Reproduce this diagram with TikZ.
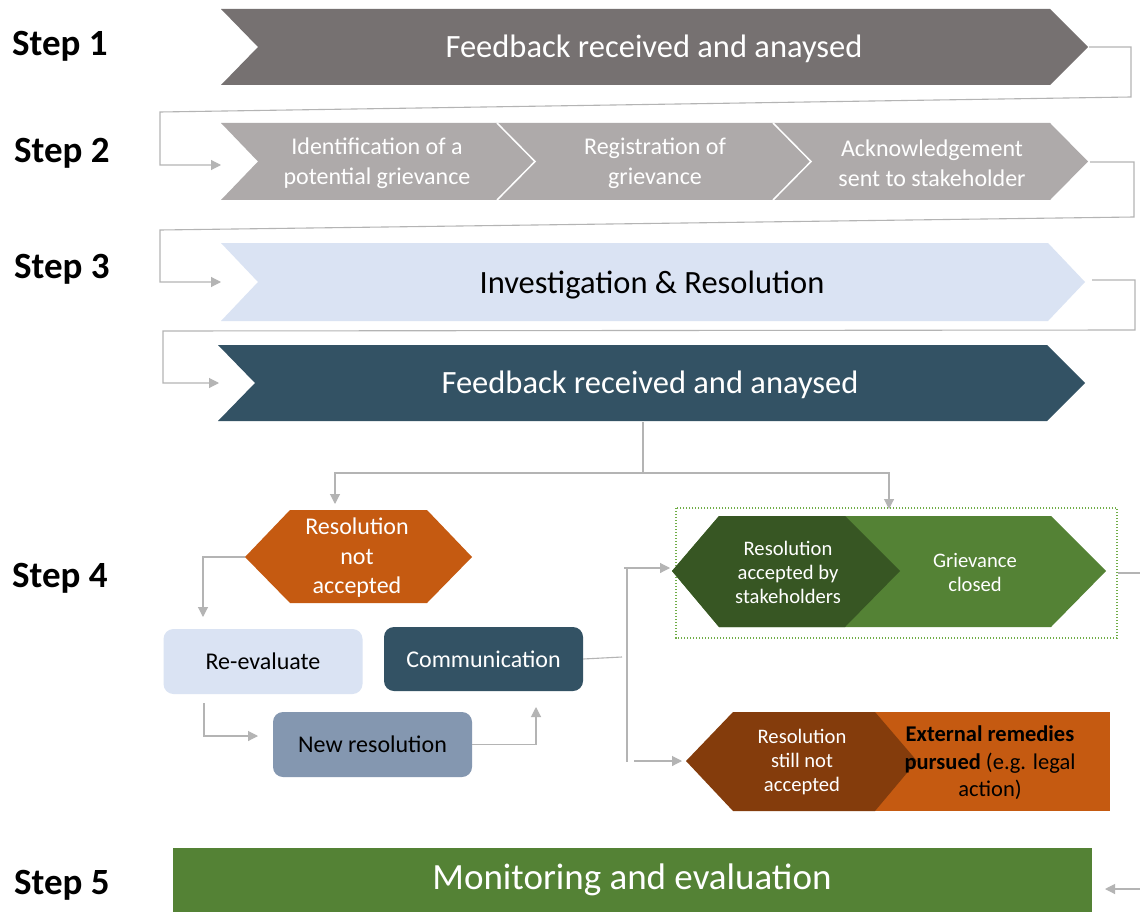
\documentclass[tikz,border=0pt]{standalone}
\usepackage{fontspec}
\setmainfont{Carlito}
\usetikzlibrary{arrows.meta}
\definecolor{gA}{HTML}{767171}
\definecolor{gB}{HTML}{AEAAAA}
\definecolor{lblue}{HTML}{DAE3F3}
\definecolor{teal}{HTML}{335264}
\definecolor{orng}{HTML}{C55A11}
\definecolor{brwn}{HTML}{843C0C}
\definecolor{dgrn}{HTML}{375623}
\definecolor{grn}{HTML}{548235}
\definecolor{slate}{HTML}{8497B0}
\definecolor{lineg}{HTML}{B4B4B4}
\definecolor{dotg}{HTML}{70AD47}
\tikzset{
  conn/.style={draw=lineg, line width=1.1pt},
  arr/.style={conn, -{Triangle[length=10pt,width=10pt]}},
  txt/.style={align=center, inner sep=0pt},
  big/.style={font=\fontsize{32.5}{38}\selectfont},
  mid/.style={font=\fontsize{24}{30}\selectfont},
  sml/.style={font=\fontsize{20.6}{24}\selectfont},
  steplbl/.style={anchor=base west, inner sep=0pt, font=\fontsize{37}{40}\selectfont\bfseries},
  rbox/.style={rounded corners=10pt, minimum width=199pt, minimum height=65pt, inner sep=0pt, mid},
  sep/.style={draw=white, line width=1.5pt},
}
\begin{document}
\begin{tikzpicture}[x=1pt,y=-1pt]
\useasboundingbox (0,0) rectangle (1140,912);
\fill[white] (0,0) rectangle (1140,912);

% step labels
\node[steplbl] (L1) at (12,56) {Step 1};
\node[steplbl] (L2) at (14,163) {Step 2};
\node[steplbl] (L3) at (14,278) {Step 3};
\node[steplbl] (L4) at (12,587) {Step 4};
\node[steplbl] (L5) at (14,894) {Step 5};

% step 1
\fill[gA] (221,9) -- (1050,9) -- (1088,47) -- (1050,85) -- (221,85) -- (258,47) -- cycle;
\node[txt, big, text=white] (t1) at (654,49) {Feedback received and anaysed};
\coordinate (s1out) at (1089,47);
\coordinate (s2in) at (221,165);

% step 2
\fill[gB] (221,123) -- (1050,123) -- (1088,161.5) -- (1050,200) -- (221,200) -- (258,161.5) -- cycle;
\draw[sep] (497,123) -- (535,161.5) -- (497,200);
\draw[sep] (773,123) -- (811,161.5) -- (773,200);
\node[txt, mid, text=white] (t2a) at (377,163) {Identification of a\\potential grievance};
\node[txt, mid, text=white] (t2b) at (655,163) {Registration of\\grievance};
\node[txt, mid, text=white] (t2c) at (932,163) {Acknowledgement\\sent to stakeholder};
\coordinate (s2out) at (1090,162);
\coordinate (s3in) at (221,282);

% step 3
\fill[lblue] (221,243) -- (1048,243) -- (1085,282) -- (1048,321) -- (221,321) -- (258,282) -- cycle;
\node[txt, big, text=black] (t3) at (652,285) {Investigation \& Resolution};
\coordinate (s3out) at (1092,280);
\coordinate (s4in) at (219,383);

% step 3b
\fill[teal] (218,345) -- (1047,345) -- (1085,383) -- (1047,421) -- (218,421) -- (255,383) -- cycle;
\node[txt, big, text=white] (t4) at (650,385) {Feedback received and anaysed};
\coordinate (s4out) at (643,422);

% connectors between steps
\draw[arr] (s1out) -- (1131,47) -- (1131,97) -- (160,112) -- (160,165) -- (s2in);
\draw[arr] (s2out) -- (1134,162) -- (1134,217) -- (160,230) -- (160,282) -- (s3in);
\draw[arr] (s3out) -- (1135,280) -- (1135,330) -- (163,331) -- (163,383) -- (s4in);

% step 4 split
\coordinate (rnaTop) at (335,504);
\coordinate (dotTop) at (889,509);
\draw[arr] (s4out) -- (643,473) -| (rnaTop);
\draw[arr] (s4out) -- (643,473) -| (dotTop);

% resolution not accepted
\fill[orng] (245,557) -- (290,510) -- (427,510) -- (472,557) -- (427,603) -- (290,603) -- cycle;
\node[txt, text=white, font=\fontsize{24}{29.5}\selectfont] (rna) at (357,558) {Resolution\\not\\accepted};
\coordinate (rnaL) at (245,557);

% boxes
\node[rbox, fill=lblue, text=black] (re) at (263,661.5) {Re-evaluate};
\node[rbox, fill=teal, text=white, minimum height=64pt] (com) at (483.5,659) {Communication};
\node[rbox, fill=slate, text=black] (new) at (372.5,744.5) {New resolution};

\draw[arr] (rnaL) -- (203,557) -- (203,617);
\draw[arr] (204,703) |- (258,736);
\draw[arr] (new.east) -| (536,707);
\draw[conn] (com.east) -- (622,657);
\draw[conn] (627,567) -- (627,762);
\coordinate (accIn) at (670,568);
\coordinate (snaIn) at (682,761);
\draw[arr] (624,568) -- (accIn);
\draw[arr] (634,761) -- (snaIn);

% accepted group
\draw[dotg, line width=1.2pt, dash pattern=on 1.2pt off 1.8pt] (676,508) rectangle (1117,638);
\fill[grn] (672,571) -- (719,516) -- (1051,516) -- (1106,571) -- (1051,627) -- (719,627) -- cycle;
\fill[dgrn] (672,571) -- (719,516) -- (845,516) -- (900,571) -- (845,627) -- (719,627) -- cycle;
\node[txt, sml, text=white] (acc) at (788,572) {Resolution\\accepted by\\stakeholders};
\node[txt, sml, text=white] (clo) at (975,572) {Grievance\\closed};
\coordinate (accOut) at (1118,573);
\coordinate (edgeR) at (1140,573);
\draw[conn] (accOut) -- (edgeR);

% still not accepted group
\fill[orng] (733,712) rectangle (1110,811);
\fill[brwn] (686,761) -- (733,712) -- (875,712) -- (917,761) -- (875,811) -- (733,811) -- cycle;
\node[txt, sml, text=white] (sna) at (802,762) {Resolution\\still not\\accepted};
\node[txt, text=black, font=\fontsize{22.5}{27.5}\selectfont] (ext) at (990,763) {\textbf{External remedies}\\\textbf{pursued} (e.g. legal\\action)};

% step 5
\fill[grn] (173,848) rectangle (1092,913);
\node[txt, text=white, font=\fontsize{37}{42}\selectfont] (mon) at (632,880) {Monitoring and evaluation};
\coordinate (monIn) at (1105,889);
\coordinate (edgeB) at (1140,889);
\draw[arr] (edgeB) -- (monIn);
\end{tikzpicture}
\end{document}
